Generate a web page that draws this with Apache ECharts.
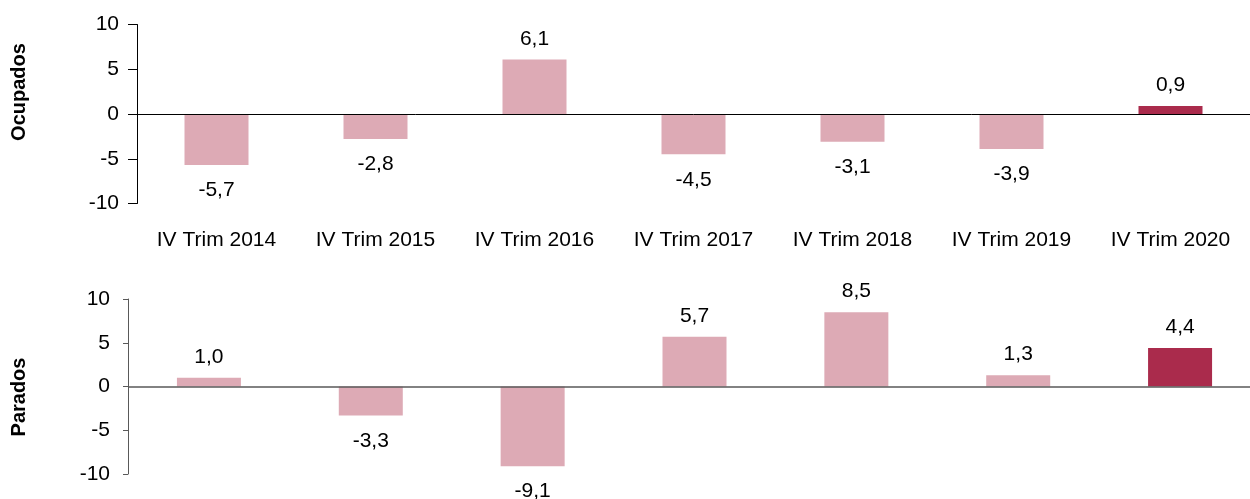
<!DOCTYPE html>
<html><head><meta charset="utf-8">
<script src="https://cdn.jsdelivr.net/npm/echarts@6/dist/echarts.min.js"></script>
<style>html,body{margin:0;padding:0;background:#fff}#c{width:1250px;height:499px}</style>
</head><body><div id="c"></div>
<script>
const categories = ['IV Trim 2014','IV Trim 2015','IV Trim 2016','IV Trim 2017','IV Trim 2018','IV Trim 2019','IV Trim 2020'];
const ocupados = [-5.7, -2.8, 6.1, -4.5, -3.1, -3.9, 0.9];
const parados = [1.0, -3.3, -9.1, 5.7, 8.5, 1.3, 4.4];
const yTicks = [-10, -5, 0, 5, 10];

const LIGHT = '#DDAAB5', DARK = '#AA2B4C';
const FONT = 'Liberation Sans, Arial, sans-serif';
function fmt(v){ return v.toFixed(1).replace('.', ','); }
function items(arr){
  return arr.map((v,i)=>({
    value: v,
    itemStyle: {color: i === arr.length-1 ? DARK : LIGHT},
    label: {position: v >= 0 ? 'top' : 'bottom', distance: v >= 0 ? 10 : 15}
  }));
}
const chart = echarts.init(document.getElementById('c'), null, {renderer:'canvas'});
function yAxis(gi, color, tickLen){
  return {
    gridIndex: gi, type:'value', min: yTicks[0], max: yTicks[yTicks.length-1], interval: 5,
    axisLine:{show:true, lineStyle:{color: color, width:1}},
    axisTick:{show:true, length: tickLen, lineStyle:{color: color}},
    splitLine:{show:false},
    axisLabel:{color:'#000', fontSize:21, fontFamily:FONT, margin:18}
  };
}
chart.setOption({
  animation:false,
  grid:[
    {left:137, top:24.5, height:179, width:1113, outerBoundsMode:'none'},
    {left:128, top:299, height:175, width:1133, outerBoundsMode:'none'}
  ],
  xAxis:[
    {gridIndex:0, type:'category', data:categories, axisLine:{show:false}, axisTick:{show:false},
     axisLabel:{color:'#000', fontSize:21, fontFamily:FONT, margin:26}},
    {gridIndex:1, type:'category', data:categories, axisLine:{show:false}, axisTick:{show:false},
     axisLabel:{show:false}}
  ],
  yAxis:[ yAxis(0,'#000',9), yAxis(1,'#595959',5) ],
  series:[
    {type:'bar', xAxisIndex:0, yAxisIndex:0, data:items(ocupados), barWidth:64,
     label:{show:true, formatter:p=>fmt(p.value), fontSize:21, fontFamily:FONT, color:'#000'},
     markLine:{silent:true, symbol:'none', label:{show:false}, lineStyle:{color:'#000', width:1, type:'solid'}, data:[{yAxis:0}]}},
    {type:'bar', xAxisIndex:1, yAxisIndex:1, data:items(parados), barWidth:64,
     label:{show:true, formatter:p=>fmt(p.value), fontSize:21, fontFamily:FONT, color:'#000'},
     markLine:{silent:true, symbol:'none', label:{show:false}, lineStyle:{color:'#595959', width:1.5, type:'solid'}, data:[{yAxis:0}]}}
  ],
  graphic:[
    {type:'text', x:19, y:92, rotation:Math.PI/2, style:{text:'Ocupados', font:'bold 20px '+FONT, fill:'#000', align:'center', verticalAlign:'middle'}},
    {type:'text', x:19, y:397, rotation:Math.PI/2, style:{text:'Parados', font:'bold 20px '+FONT, fill:'#000', align:'center', verticalAlign:'middle'}}
  ]
});
</script></body></html>
